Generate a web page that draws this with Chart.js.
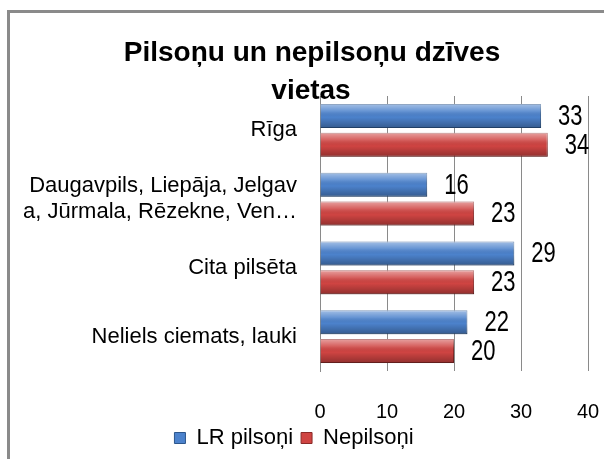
<!DOCTYPE html>
<html><head><meta charset="utf-8">
<script src="https://cdn.jsdelivr.net/npm/chart.js@4/dist/chart.umd.min.js"></script>
<style>
html,body{margin:0;padding:0;background:#fff;}
#wrap{position:relative;width:604px;height:459px;overflow:hidden;}
#frame{position:absolute;left:7px;top:10px;width:700px;height:600px;border:3px solid #8a8a8a;box-sizing:border-box;}
#c{position:absolute;left:0;top:0;}
</style></head>
<body>
<div id="wrap"><div id="frame"></div><canvas id="c" width="604" height="459"></canvas></div>
<script>
const chartTitle = ["Pilsoņu un nepilsoņu dzīves", "vietas"];
const categories = [["Rīga"], ["Daugavpils, Liepāja, Jelgav", "a, Jūrmala, Rēzekne, Ven…"], ["Cita pilsēta"], ["Neliels ciemats, lauki"]];
const seriesNames = ["LR pilsoņi", "Nepilsoņi"];
const lrPilsoni = [33, 16, 29, 22];
const nepilsoni = [34, 23, 23, 20];
const xTickValues = [0, 10, 20, 30, 40];

const FONT = "'Liberation Sans', Arial, sans-serif";

const shadePlugin = {
  id: 'shade',
  afterDatasetsDraw(chart) {
    const ctx = chart.ctx;
    chart.data.datasets.forEach((ds, di) => {
      const meta = chart.getDatasetMeta(di);
      meta.data.forEach(el => {
        const p = el.getProps(['x', 'y', 'base', 'height'], true);
        const top = p.y - p.height / 2, bot = p.y + p.height / 2;
        const g = ctx.createLinearGradient(0, top, 0, bot);
        g.addColorStop(0, 'rgba(255,255,255,0.5)');
        g.addColorStop(0.3, 'rgba(255,255,255,0.15)');
        g.addColorStop(0.55, 'rgba(0,0,0,0)');
        g.addColorStop(1, 'rgba(0,0,0,0.3)');
        ctx.save();
        ctx.fillStyle = g;
        ctx.fillRect(Math.min(p.base, p.x), top, Math.abs(p.x - p.base), p.height);
        ctx.restore();
      });
    });
  },
  afterDraw(chart) {
    const ctx = chart.ctx;
    ctx.save();
    ctx.fillStyle = '#000';
    ctx.textBaseline = 'middle';
    ctx.textAlign = 'left';
    ctx.font = "22px " + FONT;
    chart.data.datasets.forEach((ds, di) => {
      const meta = chart.getDatasetMeta(di);
      meta.data.forEach((el, i) => {
        const p = el.getProps(['x', 'y'], true);
        ctx.save();
        ctx.translate(p.x + 17, p.y + 1);
        ctx.scale(1, 1.3);
        ctx.fillText(String(ds.data[i]), 0, 0);
        ctx.restore();
      });
    });
    ctx.textAlign = 'center';
    ctx.font = "bold 28px " + FONT;
    ctx.fillText(chartTitle[0], 312, 53);
    ctx.fillText(chartTitle[1], 311, 91);
    ctx.restore();
  }
};

new Chart(document.getElementById('c'), {
  type: 'bar',
  data: {
    labels: categories,
    datasets: [
      { label: seriesNames[0], data: lrPilsoni, backgroundColor: '#4c82cc', borderColor: '#2c568c', borderWidth: 1, categoryPercentage: 0.84, barPercentage: 0.83 },
      { label: seriesNames[1], data: nepilsoni, backgroundColor: '#cf4442', borderColor: '#8a2a28', borderWidth: 1, categoryPercentage: 0.84, barPercentage: 0.83 }
    ]
  },
  options: {
    indexAxis: 'y',
    responsive: false,
    animation: false,
    layout: { padding: { top: 96, right: 16, left: 0, bottom: 0 } },
    scales: {
      x: {
        min: 0, max: 40,
        afterBuildTicks(s) { s.ticks = xTickValues.map(v => ({ value: v })); },
        afterFit(s) { s.height = 48; s.paddingLeft = 0; s.paddingRight = 0; },
        ticks: { font: { size: 20, family: FONT }, color: '#000', padding: 29 },
        grid: { color: '#8a8a8a', drawTicks: false },
        border: { display: false }
      },
      y: {
        afterFit(s) { s.width = 320; s.paddingTop = 0; s.paddingBottom = 0; },
        ticks: { font: { size: 22, family: FONT }, color: '#000', padding: 23 },
        grid: { display: false, drawTicks: false },
        border: { display: true, color: '#8a8a8a' }
      }
    },
    plugins: {
      legend: {
        position: 'bottom',
        labels: { font: { size: 22, family: FONT }, color: '#000', boxWidth: 11, boxHeight: 11, padding: 8 }
      },
      tooltip: { enabled: false }
    }
  },
  plugins: [shadePlugin]
});
</script>
</body></html>
